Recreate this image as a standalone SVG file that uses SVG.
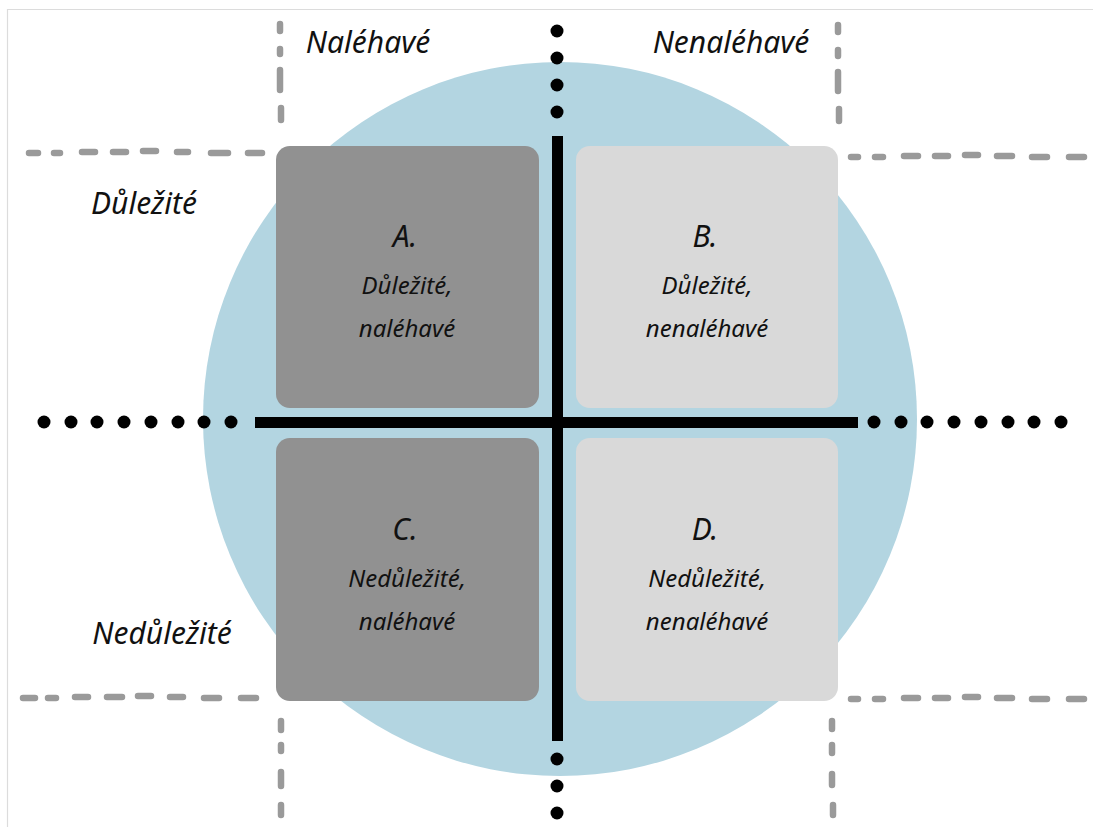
<svg xmlns="http://www.w3.org/2000/svg" width="1093" height="827" viewBox="0 0 1093 827">
<style>
.bg{fill:#ffffff}
.frame{fill:none;stroke:#dcdcdc;stroke-width:1.2}
.dash{fill:none;stroke:#9a9a9a;stroke-width:6.5;stroke-linecap:round}
.dark{fill:#919191}
.light{fill:#d9d9d9}
.dot{fill:#000}
.bar{fill:#000}
text{font-family:"Noto Sans","DejaVu Sans",sans-serif;font-style:italic;fill:#111;text-anchor:middle}
.big{font-size:30px}
.lbl{font-size:30px}
.sub{font-size:24px}
</style>
<rect class="bg" x="0" y="0" width="1093" height="827"/>
<path class="frame" d="M7.5,827 V9.5 H1093"/>
<circle cx="560" cy="419" r="357" fill="#b3d5e1"/>

<g id="guides">
  <path class="dash" d="M29,153 H38 M54,153 H60 M82,152 H95 M113,152 H126 M143,151 H156 M177,152 H188 M211,153 H228 M248,153 H262"/>
  <path class="dash" d="M851,157 H858 M875,157 H883 M904,156 H918 M935,156 H948 M965,155 H978 M997,156 H1012 M1032,157 H1047 M1069,157 H1084"/>
  <path class="dash" d="M23,698 H35 M48,698 H56 M75,697 H88 M107,697 H122 M138,696 H151 M170,697 H183 M204,698 H219 M241,698 H256"/>
  <path class="dash" d="M851,699 H858 M875,699 H883 M904,698 H918 M935,698 H948 M965,697 H978 M997,698 H1012 M1032,699 H1047 M1069,699 H1084"/>
  <path class="dash" d="M280,24 V31 M280,49 V54 M280,70 V90 M281,108 V120"/>
  <path class="dash" d="M838,25 V32 M838,50 V56 M838,72 V91 M839,109 V121"/>
  <path class="dash" d="M281,721 V730 M281,745 V751 M281,772 V786 M281,805 V815"/>
  <path class="dash" d="M832,721 V729 M832,745 V753 M832,774 V785 M833,805 V815"/>
</g>

<g id="connectors">
  <rect class="bar" x="552" y="136" width="11" height="605"/>
  <rect class="bar" x="255" y="417" width="603" height="11"/>
  <g class="dot">
    <circle cx="557" cy="31" r="6.5"/>
    <circle cx="557" cy="58" r="6.5"/>
    <circle cx="557" cy="85" r="6.5"/>
    <circle cx="557" cy="112" r="6.5"/>
    <circle cx="557" cy="759" r="6.5"/>
    <circle cx="557" cy="786" r="6.5"/>
    <circle cx="557" cy="813" r="6.5"/>
    <circle cx="44" cy="422" r="6.5"/>
    <circle cx="71" cy="422" r="6.5"/>
    <circle cx="97" cy="422" r="6.5"/>
    <circle cx="124" cy="422" r="6.5"/>
    <circle cx="151" cy="422" r="6.5"/>
    <circle cx="178" cy="422" r="6.5"/>
    <circle cx="204" cy="422" r="6.5"/>
    <circle cx="231" cy="422" r="6.5"/>
    <circle cx="874" cy="422" r="6.5"/>
    <circle cx="901" cy="422" r="6.5"/>
    <circle cx="927" cy="422" r="6.5"/>
    <circle cx="954" cy="422" r="6.5"/>
    <circle cx="981" cy="422" r="6.5"/>
    <circle cx="1008" cy="422" r="6.5"/>
    <circle cx="1034" cy="422" r="6.5"/>
    <circle cx="1061" cy="422" r="6.5"/>
  </g>
</g>

<g id="axis-labels">
  <text class="lbl" x="368" y="53">Naléhavé</text>
  <text class="lbl" x="731" y="53">Nenaléhavé</text>
  <text class="lbl" x="144" y="214">Důležité</text>
  <text class="lbl" x="162" y="644">Nedůležité</text>
</g>

<g id="quadrant-A">
  <rect class="dark" x="276" y="146" width="263" height="262" rx="14"/>
  <text class="big" x="405" y="247">A.</text>
  <text class="sub" x="407" y="294">Důležité,</text>
  <text class="sub" x="407" y="337">naléhavé</text>
</g>
<g id="quadrant-B">
  <rect class="light" x="576" y="146" width="262" height="262" rx="14"/>
  <text class="big" x="705" y="247">B.</text>
  <text class="sub" x="707" y="294">Důležité,</text>
  <text class="sub" x="707" y="337">nenaléhavé</text>
</g>
<g id="quadrant-C">
  <rect class="dark" x="276" y="438" width="263" height="263" rx="14"/>
  <text class="big" x="405" y="540">C.</text>
  <text class="sub" x="407" y="587">Nedůležité,</text>
  <text class="sub" x="407" y="630">naléhavé</text>
</g>
<g id="quadrant-D">
  <rect class="light" x="576" y="438" width="262" height="263" rx="14"/>
  <text class="big" x="705" y="540">D.</text>
  <text class="sub" x="707" y="587">Nedůležité,</text>
  <text class="sub" x="707" y="630">nenaléhavé</text>
</g>
</svg>
